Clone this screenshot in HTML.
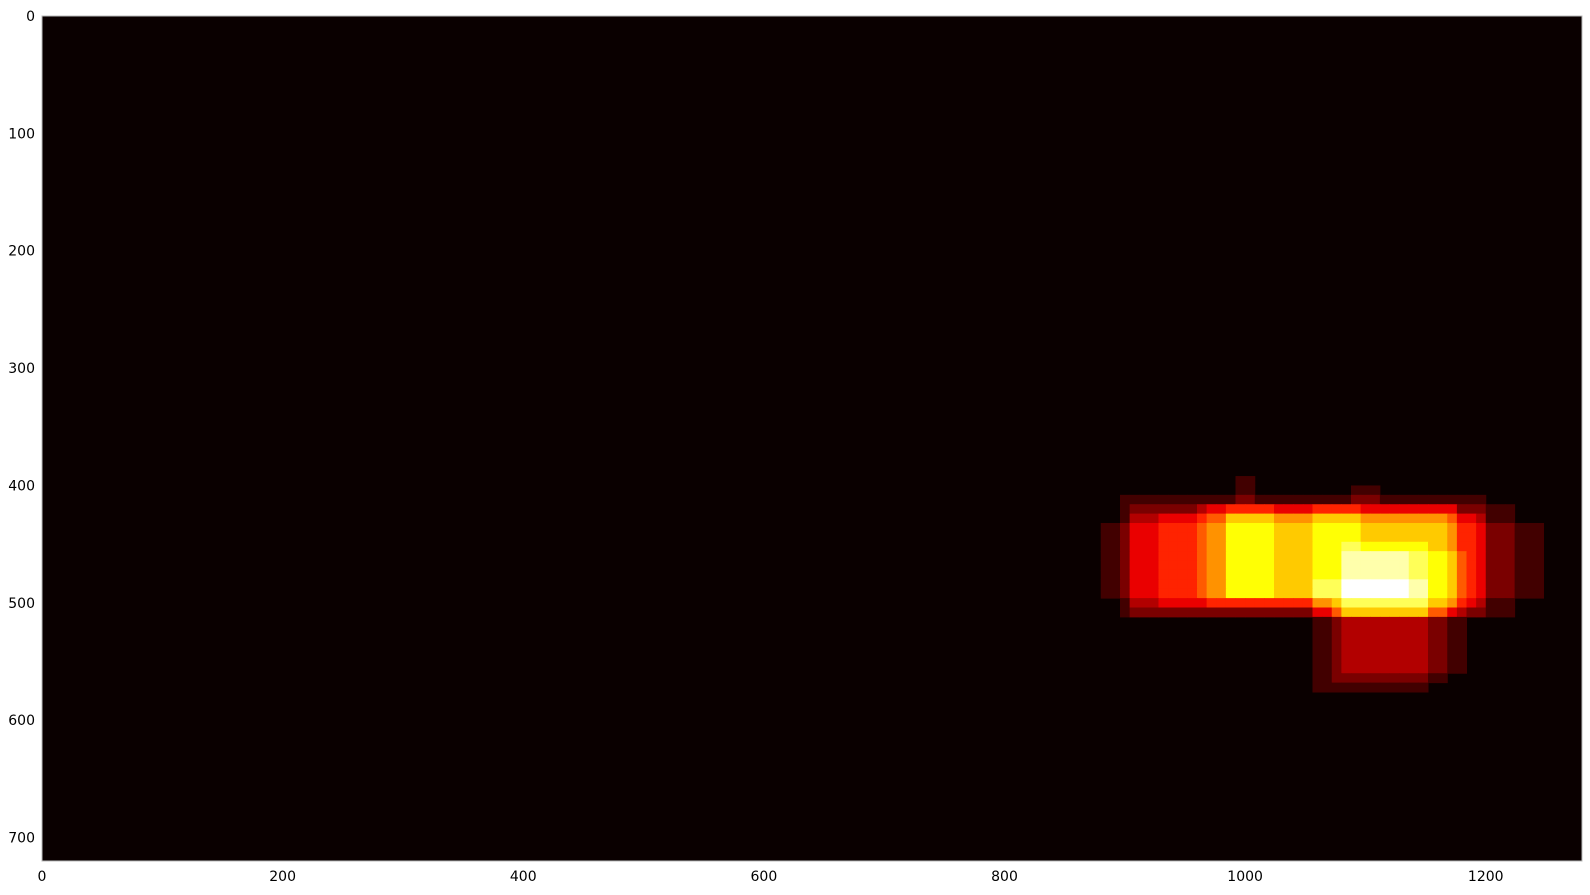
<!DOCTYPE html>
<html><head><meta charset="utf-8"><style>
body{margin:0;background:#fff;}
svg text{font-family:"DejaVu Sans","Liberation Sans",sans-serif;font-size:14px;fill:#000;}
</style></head><body>
<svg id="chart" width="1590" height="890" xmlns="http://www.w3.org/2000/svg">
<rect x="42" y="16" width="1540" height="845" fill="#0a0000"/>
<g id="cells"></g>
<rect x="42" y="16" width="1540" height="845" fill="none" stroke="#bbb" stroke-width="1"/>
<g id="xt"></g>
<g id="yt"></g>
</svg>
<script>
const imgW = 1280, imgH = 720, cell = 8;
const boxX0 = [880, 900, 905, 930, 960, 985, 1060, 1080, 1095, 1060, 1080, 990, 1090, 970, 985, 1075, 905, 1075];
const boxY0 = [430, 405, 415, 425, 420, 420, 420, 450, 460, 480, 460, 395, 400, 420, 425, 425, 425, 505];
const boxX1 = [1245,1200,1222,1190,1100,1025,1180,1150,1135,1150,1185,1010,1110,1180,1070,1165,1200,1165];
const boxY1 = [500, 515, 515, 505, 500, 500, 515, 515, 500, 580, 560, 415, 420, 505, 500, 510, 505, 565];
const xTicks = [0, 200, 400, 600, 800, 1000, 1200];
const yTicks = [0, 100, 200, 300, 400, 500, 600, 700];
const X0 = 42, Y0 = 16, PW = 1540, PH = 845;
const sx = v => X0 + v * PW / imgW;
const sy = v => Y0 + v * PH / imgH;
function hot(t){
  t = Math.max(0, Math.min(1, t));
  const r = Math.min(1, 0.0416 + t / 0.365 * (1 - 0.0416));
  const g = t < 0.365 ? 0 : Math.min(1, (t - 0.365) / 0.381);
  const b = t < 0.746 ? 0 : (t - 0.746) / 0.254;
  return `rgb(${Math.round(r*255)},${Math.round(g*255)},${Math.round(b*255)})`;
}
const NS = 'http://www.w3.org/2000/svg';
const cols = imgW / cell, rows = imgH / cell;
const heat = new Array(cols * rows).fill(0);
for (let k = 0; k < boxX0.length; k++) {
  for (let j = 0; j < rows; j++) for (let i = 0; i < cols; i++) {
    const cx = i * cell + cell / 2, cy = j * cell + cell / 2;
    if (cx >= boxX0[k] && cx < boxX1[k] && cy >= boxY0[k] && cy < boxY1[k]) heat[j * cols + i]++;
  }
}
const maxH = Math.max(...heat);
const g = document.getElementById('cells');
for (let j = 0; j < rows; j++) for (let i = 0; i < cols; i++) {
  const h = heat[j * cols + i];
  if (!h) continue;
  const r = document.createElementNS(NS, 'rect');
  
  
  r.setAttribute('x', sx(i * cell)); r.setAttribute('y', sy(j * cell));
  r.setAttribute('width', PW / imgW * cell + 0.5); r.setAttribute('height', PH / imgH * cell + 0.5);
  r.setAttribute('fill', hot(h / maxH));
  g.appendChild(r);
}
const xt = document.getElementById('xt');
xTicks.forEach(v => {
  const t = document.createElementNS(NS, 'text');
  
  
  t.setAttribute('x', sx(v)); t.setAttribute('y', 881); t.setAttribute('text-anchor', 'middle');
  t.textContent = v; xt.appendChild(t);
});
const yt = document.getElementById('yt');
yTicks.forEach(v => {
  const t = document.createElementNS(NS, 'text');
  
  
  t.setAttribute('x', 35); t.setAttribute('y', sy(v) + 5); t.setAttribute('text-anchor', 'end');
  t.textContent = v; yt.appendChild(t);
});
</script>
</body></html>
